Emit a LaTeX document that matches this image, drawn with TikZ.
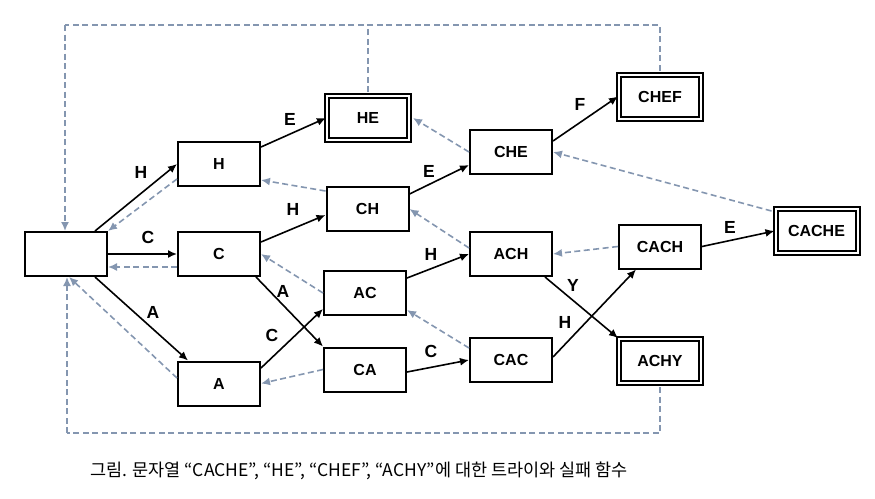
\documentclass[tikz,border=0pt]{standalone}
\usepackage{fontspec}
\setmainfont{Liberation Sans}
\newfontfamily\krfont{Noto Sans CJK KR}
\usetikzlibrary{arrows.meta,calc}
\definecolor{fail}{HTML}{8496B0}
\tikzset{
  state/.style={draw=black, line width=2pt, fill=white, minimum width=82pt, minimum height=44pt, inner sep=0pt, font=\fontsize{16}{18}\selectfont\bfseries},
  final/.style={state, double=white, double distance=2pt},
  lbl/.style={font=\fontsize{17.5}{20}\selectfont\bfseries, inner sep=0pt},
  go/.style={draw=black, line width=1.6pt, -{Latex[length=9pt,width=8pt]}},
  failarr/.style={draw=fail, line width=1.6pt, dash pattern=on 6pt off 3.5pt, -{Latex[length=9pt,width=8pt]}},
  failline/.style={draw=fail, line width=1.6pt, dash pattern=on 6pt off 3.5pt},
}
\begin{document}
\begin{tikzpicture}[x=1pt,y=-1pt]
\useasboundingbox (0,0) rectangle (875,498);
% nodes
\node[state] (root) at (66,254) {};
\node[state] (H) at (219,164) {H};
\node[state] (C) at (219,254) {C};
\node[state] (A) at (219,383.5) {A};
\node[final] (HE) at (368,118) {HE};
\node[state] (CH) at (367.5,209) {CH};
\node[state] (AC) at (365,293) {AC};
\node[state] (CA) at (365,369.5) {CA};
\node[state] (CHE) at (511,152) {CHE};
\node[final] (CHEF) at (660,96.5) {CHEF};
\node[state] (ACH) at (511,254) {ACH};
\node[state] (CAC) at (511,360) {CAC};
\node[state] (CACH) at (660,246.5) {CACH};
\node[final] (CACHE) at (816.5,231) {CACHE};
\node[final] (ACHY) at (660,361) {ACHY};
% loop corners
\coordinate (tl) at (65,25);
\coordinate (bl) at (67,433);
% goto edges
\draw[go] ([xshift=-13pt]root.north east) -- (H.west);
\draw[go] (root.east) -- (C.west);
\draw[go] ([xshift=-13pt]root.south east) -- ([xshift=11pt]A.north west);
\draw[go] ([yshift=17pt]H.east) -- (HE.west);
\draw[go] ([yshift=12pt]C.east) -- ([yshift=-6pt]CH.west);
\draw[go] ([xshift=-5pt]C.south east) -- (CA.north west);
\draw[go] ([yshift=15.5pt]A.east) -- ([yshift=-16pt]AC.west);
\draw[go] ([yshift=15pt]CH.east) -- ([yshift=-13pt]CHE.west);
\draw[go] ([yshift=15pt]AC.east) -- (ACH.west);
\draw[go] ([yshift=-2.5pt]CA.east) -- (CAC.west);
\draw[go] ([yshift=11pt]CHE.east) -- (CHEF.west);
\draw[go] (CACH.east) -- (CACHE.west);
\draw[go] ([xshift=-8pt]ACH.south east) -- (ACHY.north west);
\draw[go] ([yshift=3pt]CAC.east) -- ([xshift=-24pt]CACH.south);
% failure edges
\draw[failarr] ([yshift=-15pt]H.west) -- (root.north east);
\draw[failarr] ([yshift=-13pt]C.west) -- ([yshift=-13pt]root.east);
\draw[failarr] ([yshift=5.5pt]A.west) -- ([xshift=3pt]root.south);
\draw[failarr] ([yshift=18pt]CH.west) -- ([yshift=-16pt]H.east);
\draw[failarr] (AC.west) -- (C.east);
\draw[failarr] (CA.west) -- (A.east);
\draw[failarr] (CHE.west) -- ([xshift=3pt]HE.east);
\draw[failarr] ([yshift=6pt]ACH.west) -- (CH.east);
\draw[failarr] ([yshift=12pt]CAC.west) -- ([yshift=-17pt]AC.east);
\draw[failarr] ([yshift=20pt,xshift=-3pt]CACHE.west) -- (CHE.east);
\draw[failarr] (CACH.west) -- (ACH.east);
\draw[failline] ([yshift=3pt]CHEF.north) -- (CHEF.north |- tl) -- (tl);
\draw[failarr] (tl) -- (tl |- root.north);
\draw[failline] ([yshift=3pt]HE.north) -- (HE.north |- tl);
\draw[failline] ([yshift=-3pt]ACHY.south) -- (ACHY.south |- bl) -- (bl);
\draw[failarr] (bl) -- (bl |- root.south);
% edge labels
\node[lbl] (l1) at (141,172) {H};
\node[lbl] (l2) at (148,237) {C};
\node[lbl] (l3) at (153,312) {A};
\node[lbl] (l4) at (290,119) {E};
\node[lbl] (l5) at (293,209) {H};
\node[lbl] (l6) at (283,291) {A};
\node[lbl] (l7) at (272,335) {C};
\node[lbl] (l8) at (429,171) {E};
\node[lbl] (l9) at (431,254) {H};
\node[lbl] (l10) at (431,351) {C};
\node[lbl] (l11) at (580,104) {F};
\node[lbl] (l12) at (730,227) {E};
\node[lbl] (l13) at (573,285) {Y};
\node[lbl] (l14) at (565,322) {H};
% caption
\node[font=\krfont\fontsize{17.5}{20}\selectfont, inner sep=0pt] (cap) at (359,471) {그림. 문자열 “CACHE”, “HE”, “CHEF”, “ACHY”에 대한 트라이와 실패 함수};
\end{tikzpicture}
\end{document}
